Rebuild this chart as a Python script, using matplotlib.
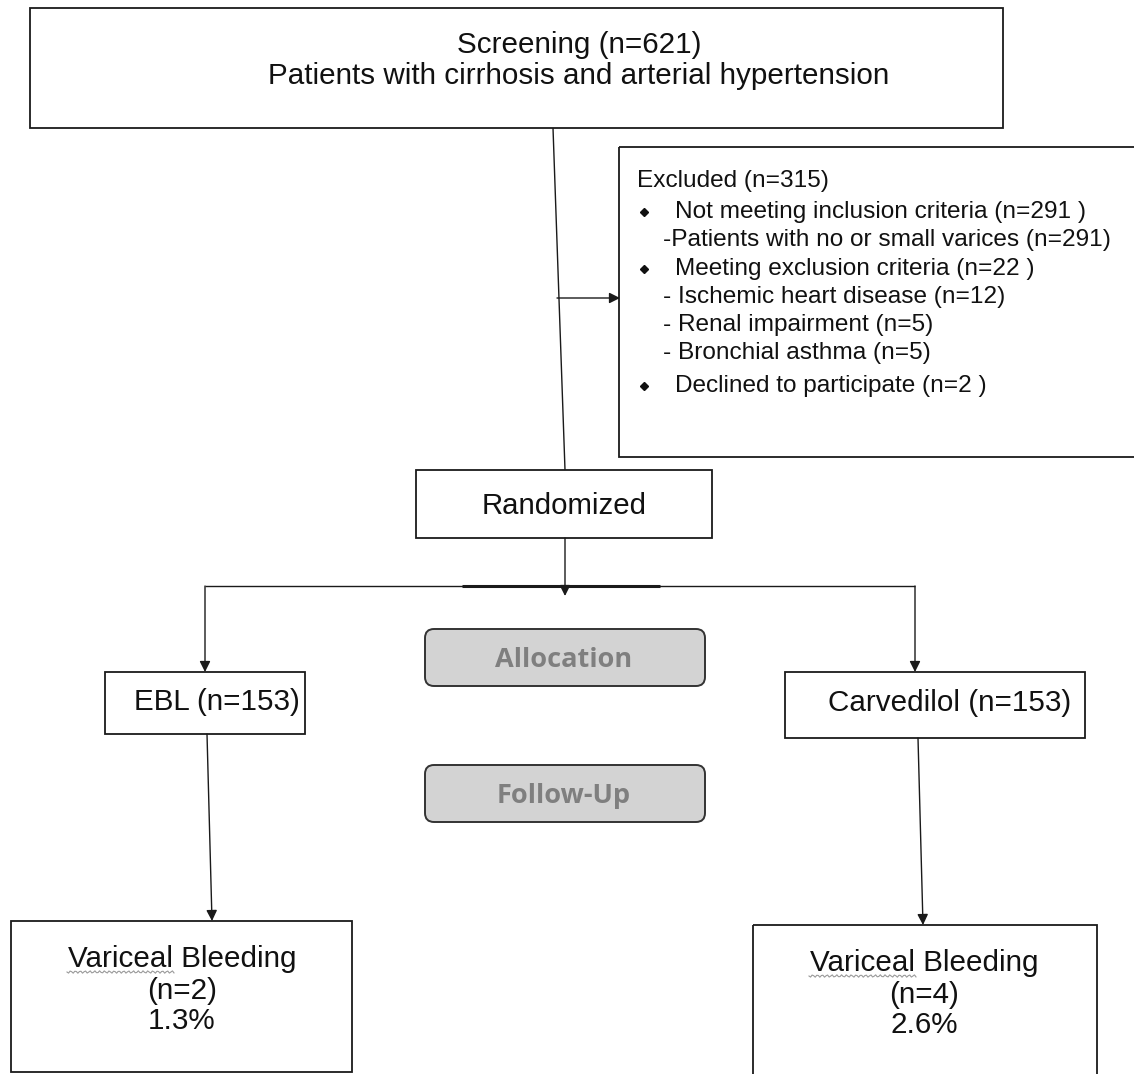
import numpy as np
import matplotlib

matplotlib.use("Agg")
import matplotlib.pyplot as plt
from matplotlib.patches import Rectangle, FancyBboxPatch

plt.rcParams["font.family"] = ["Liberation Sans", "DejaVu Sans"]

# --- flowchart content ---
screening_lines = ["Screening (n=621)", "Patients with cirrhosis and arterial hypertension"]
excluded_title = "Excluded (n=315)"
excluded_items = [
    ("bullet", "Not meeting inclusion criteria (n=291 )"),
    ("sub", "-Patients with no or small varices (n=291)"),
    ("bullet", "Meeting exclusion criteria (n=22 )"),
    ("sub", "- Ischemic heart disease (n=12)"),
    ("sub", "- Renal impairment (n=5)"),
    ("sub", "- Bronchial asthma (n=5)"),
    ("bullet", "Declined to participate (n=2 )"),
]
randomized_label = "Randomized"
arm_labels = ["EBL (n=153)", "Carvedilol (n=153)"]
outcome_title = "Variceal Bleeding"
outcome_n = [2, 4]
outcome_pct = [1.3, 2.6]
stage_labels = ["Allocation", "Follow-Up"]

W, H = 1134, 1074
fig = plt.figure(figsize=(W / 100, H / 100), dpi=100)
ax = fig.add_axes([0, 0, 1, 1])
ax.set_xlim(0, W)
ax.set_ylim(H, 0)
ax.axis("off")

EDGE = "#1a1a1a"
TXT = "#111111"
LW = 1.3


def box(x0, y0, x1, y1, lw=LW):
    ax.add_patch(Rectangle((x0, y0), x1 - x0, y1 - y0, fill=False,
                           edgecolor=EDGE, linewidth=lw))


def line(x0, y0, x1, y1, lw=1.0):
    ax.plot([x0, x1], [y0, y1], color=EDGE, linewidth=lw, solid_capstyle="butt")


def arrow(x0, y0, x1, y1):
    ax.annotate("", xy=(x1, y1), xytext=(x0, y0),
                arrowprops=dict(arrowstyle="-|>", color=EDGE, lw=1.0,
                                mutation_scale=16, shrinkA=0, shrinkB=0))


# screening box
box(30, 8, 1003, 128)
for i, t in enumerate(screening_lines):
    ax.text(579, 45 + i * 31, t, ha="center", va="center", fontsize=21.3, color=TXT)

# main vertical from screening to randomized
line(553, 128, 565, 470)
arrow(557, 298, 620, 298)

# excluded box (extends past right edge)
box(619, 147, 1145, 457)
ax.text(637, 181, excluded_title, ha="left", va="center", fontsize=17.6, color=TXT)
ys = [212, 240, 269, 297, 325, 353, 386]
for (kind, t), y in zip(excluded_items, ys):
    if kind == "bullet":
        ax.plot(644, y, marker="D", markersize=4.5, color=TXT)
        ax.text(675, y, t, ha="left", va="center", fontsize=17.6, color=TXT)
    else:
        ax.text(663, y, t, ha="left", va="center", fontsize=17.6, color=TXT)

# randomized box
box(416, 470, 712, 538)
ax.text(564, 506, randomized_label, ha="center", va="center", fontsize=21.2, color=TXT)

# split
arrow(565, 538, 565, 596)
line(205, 586, 915, 586, lw=1.0)
line(462, 586, 660, 586, lw=2.2)
arrow(205, 586, 205, 672)
arrow(915, 586, 915, 672)

# arm boxes
box(105, 672, 305, 734)
ax.text(217, 702, arm_labels[0], ha="center", va="center", fontsize=21.3, color=TXT)
box(785, 672, 1085, 738)
ax.text(950, 703, arm_labels[1], ha="center", va="center", fontsize=21.3, color=TXT)

# stage labels
for y0, lab in zip([629, 765], stage_labels):
    ax.add_patch(FancyBboxPatch((425, y0), 280, 57,
                                boxstyle="round,pad=0,rounding_size=9",
                                facecolor="#d3d3d3", edgecolor="#333333", linewidth=1.4))
    ax.text(564, y0 + 31, lab, ha="center", va="center", fontsize=19.5,
            fontweight="bold", family=["Open Sans", "DejaVu Sans"], color="#7f7f7f")

# arm -> outcome arrows
arrow(207, 734, 212, 921)
arrow(918, 738, 923, 925)

# outcome boxes
for (x0, y0, x1, y1), cx, n, p in zip([(11, 921, 352, 1072), (753, 925, 1097, 1080)],
                                      [182, 924], outcome_n, outcome_pct):
    box(x0, y0, x1, y1)
    ax.text(cx, y0 + 38, outcome_title, ha="center", va="center", fontsize=21.3, color=TXT)
    ax.text(cx, y0 + 70, f"(n={n})", ha="center", va="center", fontsize=21.3, color=TXT)
    ax.text(cx, y0 + 100, f"{p}%", ha="center", va="center", fontsize=21.3, color=TXT)
    # spell-check squiggle under "Variceal"
    xs = np.linspace(cx - 115, cx - 8, 70)
    ax.plot(xs, y0 + 51 + 1.2 * np.sin((xs - xs[0]) * 1.3), color="#9a9a9a", lw=0.8)

fig.savefig("out.png", dpi=100)
